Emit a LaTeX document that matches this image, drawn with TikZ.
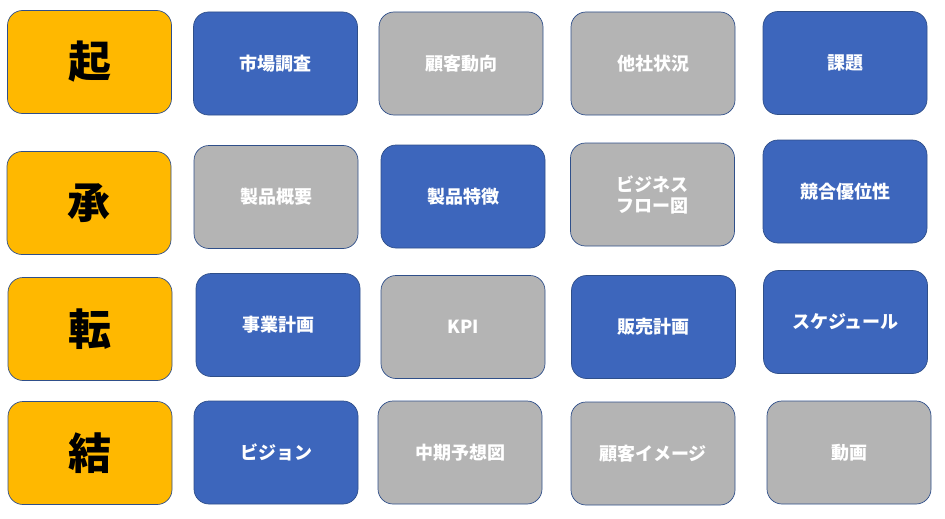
\documentclass[tikz,border=0pt]{standalone}
\usepackage{fontspec}
\newfontfamily\jpfont{Noto Sans CJK JP}
\usepackage{tikz}
\definecolor{kigold}{HTML}{FFB800}
\definecolor{boxblue}{HTML}{3D66BC}
\definecolor{boxgray}{HTML}{B4B4B4}
\definecolor{edgeblue}{HTML}{2F4F8A}

\begin{document}
\begin{tikzpicture}[x=1pt, y=-1pt,
	card/.style={draw=edgeblue, line width=0.7pt, rounded corners=15pt,
		minimum width=164pt, minimum height=103pt, align=center,
		font=\jpfont\bfseries\fontsize{18}{21}\selectfont, text=white},
	head/.style={card, fill=kigold, text=black, font=\jpfont\bfseries\fontsize{43}{46}\selectfont},
	blue/.style={card, fill=boxblue},
	gray/.style={card, fill=boxgray}]
		%%%%% START %%%%%
		\useasboundingbox (0, 0) rectangle (945, 519);
		
		\node[head] (ki)    at (89.5, 62)  {起};
		\node[head] (sho)   at (89, 203)   {承};
		\node[head] (ten)   at (90, 329)   {転};
		\node[head] (ketsu) at (90, 453)   {結};
		
		\node[blue] (market)   at (275.5, 63.5) {市場調査};
		\node[gray] (customer) at (461, 63.5)   {顧客動向};
		\node[gray] (rivals)   at (653, 63.5)   {他社状況};
		\node[blue] (issue)    at (845, 63)     {課題};
		
		\node[gray] (outline)  at (276, 197)    {製品概要};
		\node[blue] (features) at (463, 196.5)  {製品特徴};
		\node[gray] (flow)     at (652.5, 194.5) {ビジネス\\フロー図};
		\node[blue] (edge)     at (845, 191.5)  {競合優位性};
		
		\node[blue] (plan)     at (278, 325)    {事業計画};
		\node[gray] (kpi)      at (463, 327)    {KPI};
		\node[blue] (sales)    at (653.5, 327)  {販売計画};
		\node[blue] (schedule) at (845.5, 322)  {スケジュール};
		
		\node[blue] (vision)   at (276, 452.5)  {ビジョン};
		\node[gray] (forecast) at (460, 452.5)  {中期予想図};
		\node[gray] (image)    at (653, 453.5)  {顧客イメージ};
		\node[gray] (movie)    at (849, 452.5)  {動画};
		%%%%% END %%%%%
\end{tikzpicture}
\end{document}
